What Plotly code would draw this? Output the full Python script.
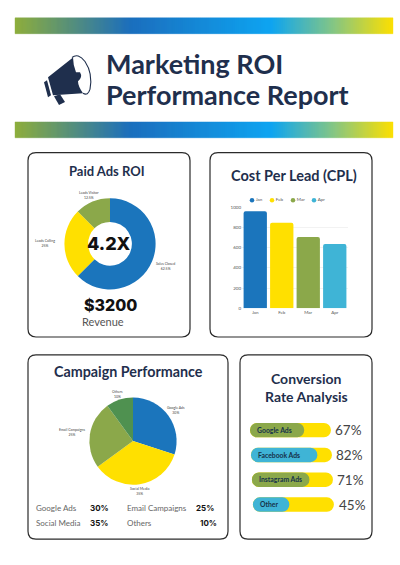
import numpy as np
import plotly.graph_objects as go

# data
roi_labels = ['Sales Closed', 'Leads Calling', 'Leads Visitor']
roi_values = [62.5, 25, 12.5]
roi_text = ['62.5%', '25%', '12.5%']

cpl_months = ['Jan', 'Feb', 'Mar', 'Apr']
cpl_values = [960, 845, 705, 635]
cpl_ticks = [0, 200, 400, 600, 800, 1000]

camp_labels = ['Google Ads', 'Social Media', 'Email Campaigns', 'Others']
camp_values = [30, 35, 25, 10]

conv_labels = ['Google Ads', 'Facebook Ads', 'Instagram Ads', 'Other']
conv_values = [67, 82, 71, 45]
conv_shift = [0, 1.2, 2.4, 3.6]   # the rows drift slightly to the right

BLUE = '#1B75BC'
YELLOW = '#FFE000'
GREEN = '#8BA84A'
DGREEN = '#4F9150'
CYAN = '#3FB4D6'
NAVY = '#1F2F4D'
FONT = 'Lato'


def card(x0, y0, x1, y1, r=8):
    return dict(type='path', xref='x', yref='y', layer='below', fillcolor='white',
                line=dict(color='#2b2b2b', width=1.2),
                path=f'M{x0+r},{y0} L{x1-r},{y0} Q{x1},{y0} {x1},{y0+r} L{x1},{y1-r} Q{x1},{y1} {x1-r},{y1} '
                     f'L{x0+r},{y1} Q{x0},{y1} {x0},{y1-r} L{x0},{y0+r} Q{x0},{y0} {x0+r},{y0} Z')


def gradient(y0, y1):
    # horizontal colour band built from thin rects
    stops = [15, 130, 270, 330, 393]
    r = [141, 28, 14, 128, 255]
    g = [174, 111, 165, 197, 224]
    b = [62, 190, 242, 138, 0]
    out = []
    for x in range(15, 393, 2):
        c = 'rgb(%d,%d,%d)' % (np.interp(x, stops, r), np.interp(x, stops, g), np.interp(x, stops, b))
        out.append(dict(type='rect', xref='x', yref='y', layer='below', x0=x, x1=x + 2, y0=y0, y1=y1,
                        fillcolor=c, line=dict(color=c, width=0.4)))
    return out


def txt(x, y, s, size, color=NAVY, weight=400, anchor='center', family=FONT):
    return dict(x=x, y=y, xref='x', yref='y', text=s, showarrow=False, xanchor=anchor, yanchor='middle',
                align='center', font=dict(size=size, color=color, family=family, weight=weight))


def dom(a, b, total):
    return [a / total, b / total]


def ydom(top, bottom):
    return [1 - bottom / 565, 1 - top / 565]


fig = go.Figure()

# donut
fig.add_trace(go.Pie(labels=roi_labels, values=roi_values, hole=0.48, sort=False, direction='clockwise',
                     rotation=0, textinfo='none', showlegend=False,
                     marker=dict(colors=[BLUE, YELLOW, GREEN]),
                     domain=dict(x=dom(64, 156, 400), y=ydom(198, 290))))

# campaign pie
fig.add_trace(go.Pie(labels=camp_labels, values=camp_values, sort=False, direction='clockwise',
                     rotation=0, textinfo='none', showlegend=False,
                     marker=dict(colors=[BLUE, YELLOW, GREEN, DGREEN]),
                     domain=dict(x=dom(89, 177, 400), y=ydom(399, 487))))

# CPL bars
for m, v, c in zip(cpl_months, cpl_values, [BLUE, YELLOW, GREEN, CYAN]):
    fig.add_trace(go.Bar(x=[m], y=[v], name=m, xaxis='x2', yaxis='y2', width=0.88, offset=-0.44, showlegend=False,
                         marker=dict(color=c, cornerradius=2, line=dict(width=0))))

# plotly's legend needs too much room at this size, so the dots are a small scatter
legend_x = [252, 272, 293, 314]
fig.add_trace(go.Scatter(x=legend_x, y=[200] * 4, mode='markers+text', text=cpl_months, textposition='middle right',
                         textfont=dict(size=4.5, color='#555555', family=FONT), showlegend=False,
                         marker=dict(size=4.5, color=[BLUE, YELLOW, GREEN, CYAN])))

# conversion bars: yellow track, coloured fill
fig.add_trace(go.Bar(y=conv_labels, x=[100] * 4, base=conv_shift, orientation='h', xaxis='x3', yaxis='y3',
                     width=0.58, showlegend=False,
                     marker=dict(color=YELLOW, cornerradius=7, line=dict(width=0))))
fig.add_trace(go.Bar(y=conv_labels, x=conv_values, base=conv_shift, orientation='h', xaxis='x3', yaxis='y3',
                     width=0.58, showlegend=False, text=conv_labels, textposition='inside',
                     insidetextanchor='start', textangle=0, constraintext='none',
                     textfont=dict(size=9, color='#16324a', family=FONT, weight=700),
                     marker=dict(color=[GREEN, CYAN, GREEN, CYAN], cornerradius=7, line=dict(width=0))))

shapes = gradient(16, 32) + gradient(121, 137)
shapes += [card(28, 152, 190, 338), card(210, 152, 372, 338), card(28, 356, 228, 542), card(240, 356, 372, 542)]

# megaphone icon
shapes += [
    dict(type='path', xref='x', yref='y', layer='below', fillcolor=NAVY, line=dict(width=0),
         path='M73,56 L48,76 L53,94 L83,92 Q78,85 78,80 Q83,76 80,71 L76,71 Q73,63 73,56 Z'),
    dict(type='path', xref='x', yref='y', layer='below', fillcolor='rgba(0,0,0,0)', line=dict(color=NAVY, width=1.1),
         path='M72,56 Q78,51 85,60 Q93,72 90,88 Q88,95 83,92'),
    dict(type='path', xref='x', yref='y', layer='below', fillcolor=NAVY, line=dict(width=0),
         path='M44,81 L47,79 L51,94 L48,96 Z'),
    dict(type='path', xref='x', yref='y', layer='below', fillcolor=NAVY, line=dict(width=0),
         path='M54,95 L60,93 L65,101 L59,104 Z'),
]

ann = [
    txt(104, 62, 'Marketing ROI', 27, weight=700, anchor='left'),
    txt(104, 93, 'Performance Report', 27, weight=700, anchor='left'),
    txt(107, 171, 'Paid Ads ROI', 13, weight=700),
    txt(294, 175, 'Cost Per Lead (CPL)', 14.5, weight=700),
    txt(128, 373, 'Campaign Performance', 14.3, weight=700),
    txt(306, 380, 'Conversion', 14, weight=700),
    txt(306, 398, 'Rate Analysis', 14, weight=700),
    txt(109, 244, '4.2X', 18, color='#111111', weight=800, family='Inter'),
    txt(110, 306, '$3200', 16, color='#111111', weight=800, family='Inter'),
    txt(103, 322, 'Revenue', 11, color='#555555'),
    txt(89, 195, roi_labels[2] + '<br>' + roi_text[2], 3.5, color='#444444'),
    txt(45, 244, roi_labels[1] + '<br>' + roi_text[1], 3.5, color='#444444'),
    txt(165, 267, roi_labels[0] + '<br>' + roi_text[0], 3.5, color='#444444'),
    txt(176, 412, '%s<br>%d%%' % (camp_labels[0], camp_values[0]), 3.5, color='#444444'),
    txt(140, 494, '%s<br>%d%%' % (camp_labels[1], camp_values[1]), 3.5, color='#444444'),
    txt(72, 434, '%s<br>%d%%' % (camp_labels[2], camp_values[2]), 3.5, color='#444444'),
    txt(117, 396, '%s<br>%d%%' % (camp_labels[3], camp_values[3]), 3.5, color='#444444'),
]

# little table under the pie
table_x = [34, 125, 34, 125]
table_val_x = [88, 194, 88, 198]
table_y = [511, 511, 526, 526]
for i, j in enumerate([0, 2, 1, 3]):
    ann.append(txt(table_x[i], table_y[i], camp_labels[j], 8, color='#666666', anchor='left'))
    ann.append(txt(table_val_x[i], table_y[i], '%d%%' % camp_values[j], 8, color='#111111', weight=700, anchor='left', family='Inter'))

# percent labels beside the bars
for i, v in enumerate(conv_values):
    ann.append(txt(333 + conv_shift[i], 432 + 25 * i, '%d%%' % v, 13.5, color='#444444', anchor='left'))

fig.update_layout(
    width=400, height=565, margin=dict(l=0, r=0, t=0, b=0), paper_bgcolor='white', plot_bgcolor='rgba(0,0,0,0)',
    font=dict(family=FONT), shapes=shapes, annotations=ann, barmode='overlay', showlegend=False,
    # full page axis in pixels, used for the cards and the text
    xaxis=dict(range=[0, 400], domain=[0, 1], visible=False, fixedrange=True),
    yaxis=dict(range=[565, 0], domain=[0, 1], visible=False, fixedrange=True),
    xaxis2=dict(domain=dom(242, 348, 400), anchor='y2', categoryorder='array', categoryarray=cpl_months,
                range=[-0.5, 3.5], showgrid=False, showline=False,
                ticks='', tickfont=dict(size=4.5, color='#555555')),
    yaxis2=dict(domain=ydom(207, 309), anchor='x2', range=[0, 1000], tickvals=cpl_ticks, showline=False,
                gridcolor='#f2f2f2', gridwidth=0.5, zeroline=False, ticks='', tickfont=dict(size=4.5, color='#555555')),
    xaxis3=dict(domain=dom(250, 335, 400), anchor='y3', range=[0, 105], visible=False),
    yaxis3=dict(domain=ydom(419.5, 519.5), anchor='x3', categoryorder='array', categoryarray=conv_labels,
                autorange='reversed', visible=False),
)

fig.write_html('out.html', config=dict(displayModeBar=False), post_script="document.body.style.margin='0';")
